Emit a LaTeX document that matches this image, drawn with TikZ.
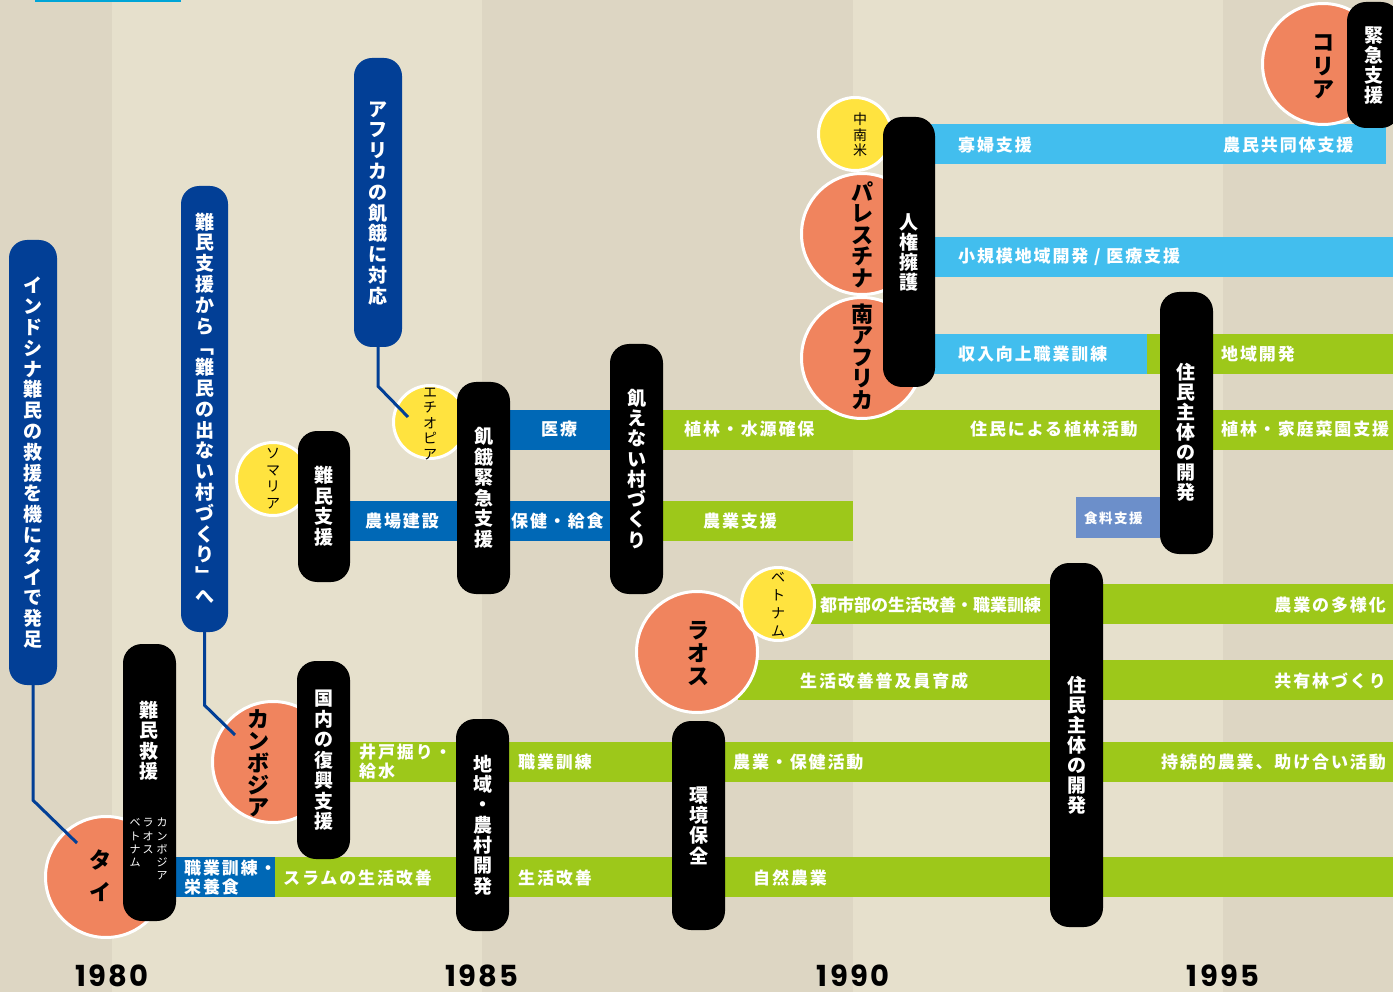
\documentclass[tikz,border=0pt]{standalone}
\usepackage{fontspec}
\setmainfont{Noto Sans CJK JP}
\newfontfamily\jp{Noto Sans CJK JP}
\newfontfamily\jpl{Noto Sans CJK JP}[LetterSpace=11]
\newfontfamily\yr{Poppins}[LetterSpace=8]
\definecolor{bgd}{HTML}{DDD6C3}
\definecolor{bgl}{HTML}{E6E0CC}
\definecolor{navy}{HTML}{023F96}
\definecolor{grn}{HTML}{9DC81A}
\definecolor{mblue}{HTML}{0068B6}
\definecolor{lblue}{HTML}{42BEEE}
\definecolor{lav}{HTML}{6C8FCA}
\definecolor{salmon}{HTML}{F0845E}
\definecolor{yell}{HTML}{FFE33F}
\definecolor{topc}{HTML}{00A5D7}
\makeatletter
\newcommand\vtext[2]{\vbox{\offinterlineskip\@tfor\vt@c:=#2\do{\hbox to 1em{\hss\rule[\dimexpr-0.12em-(#1-1em)/2\relax]{0pt}{#1}\vt@c\hss}}}}
\makeatother
\tikzset{
  bar/.style={rectangle, inner sep=0pt, minimum height=40pt, draw=none, anchor=west},
  pill/.style={rectangle, fill=black, rounded corners=19pt, inner sep=0pt, text=white,
    font={\jp\bfseries\fontsize{19pt}{20pt}\selectfont}},
  bpill/.style={rectangle, fill=navy, rounded corners=18pt, inner sep=0pt, text=white,
    font={\jp\bfseries\fontsize{19pt}{20pt}\selectfont}},
  ctry/.style={circle, fill=salmon, draw=white, line width=3pt, minimum size=121pt, inner sep=0pt},
  yel/.style={circle, fill=yell, draw=white, line width=3pt, minimum size=73pt, inner sep=0pt},
  big/.style={inner sep=0pt, text=black, font={\jp\bfseries\fontsize{22pt}{24pt}\selectfont}},
  small/.style={inner sep=0pt, text=black, font={\jp\fontsize{14pt}{16pt}\selectfont}},
  lab/.style={inner sep=0pt, text=white, font={\jpl\bfseries\fontsize{17pt}{19pt}\selectfont}},
  conn/.style={draw=navy, line width=3pt},
  year/.style={inner sep=0pt, anchor=base, font={\yr\bfseries\fontsize{29pt}{31pt}\selectfont}}
}
\begin{document}
\begin{tikzpicture}[x=1pt,y=-1pt]
\useasboundingbox (0,0) rectangle (1393,992);
% background bands
\fill[bgd] (0,0) rectangle (112,992);
\fill[bgl] (112,0) rectangle (482,992);
\fill[bgd] (482,0) rectangle (853,992);
\fill[bgl] (853,0) rectangle (1223,992);
\fill[bgd] (1223,0) rectangle (1393,992);
\fill[topc] (35,0) rectangle (181,2.5);
% bars
\node[bar, fill=mblue, minimum width=99pt] (a1) at (176,877) {};
\node[bar, fill=grn, minimum width=1118pt] (a2) at (275,877) {};
\node[bar, fill=grn, minimum width=1043pt] (b1) at (350,762) {};
\node[bar, fill=grn, minimum width=655pt] (c1) at (738,680) {};
\node[bar, fill=grn, minimum width=582pt] (d1) at (811,604) {};
\node[bar, fill=mblue, minimum width=260pt] (e1) at (350,521) {};
\node[bar, fill=grn, minimum width=243pt] (e2) at (610,521) {};
\node[bar, fill=mblue, minimum width=100pt] (f1) at (510,429.5) {};
\node[bar, fill=grn, minimum width=783pt] (f2) at (610,429.5) {};
\node[bar, fill=lblue, minimum width=247pt] (g1) at (900,354) {};
\node[bar, fill=grn, minimum width=246pt] (g2) at (1147,354) {};
\node[bar, fill=lblue, minimum width=493pt] (h1) at (900,257) {};
\node[bar, fill=lblue, minimum width=486pt] (i1) at (900,144) {};
\node[bar, fill=lav, minimum width=84pt, minimum height=41pt] (food) at (1076,517.5) {};
% circles
\node[ctry] (tai) at (106,877) {};
\node[ctry] (cam) at (273,762) {};
\node[ctry] (lao) at (697,652) {};
\node[yel] (vie) at (778,604) {};
\node[yel] (som) at (273,479) {};
\node[yel] (eth) at (430,422) {};
\node[yel] (lat) at (855,134) {};
\node[ctry] (pal) at (862,234) {};
\node[ctry] (saf) at (862,358) {};
\node[ctry] (kor) at (1323,64) {};
% circle texts
\node[big] (taiT) at (100,876) {\vtext{32pt}{タイ}};
\node[big] (camT) at (258,763) {\vtext{22pt}{カンボジア}};
\node[big] (laoT) at (698,653) {\vtext{23pt}{ラオス}};
\node[big] (palT) at (862,235) {\vtext{21.5pt}{パレスチナ}};
\node[big] (safT) at (862,357) {\vtext{21.5pt}{南アフリカ}};
\node[big] (korT) at (1323,66) {\vtext{23.5pt}{コリア}};
\node[small] (vieT) at (778,604) {\vtext{18pt}{ベトナム}};
\node[small] (somT) at (273,478) {\vtext{16.5pt}{ソマリア}};
\node[small] (ethT) at (430,423) {\vtext{15.5pt}{エチオピア}};
\node[small] (latT) at (860,135) {\vtext{15.5pt}{中南米}};
% connectors
\coordinate (taiIn) at (77,843);
\coordinate (camIn) at (235,735);
\coordinate (ethIn) at (408,417);
% blue pills
\node[bpill, minimum width=48pt, minimum height=445pt] (bp1) at (33,462.5) {\vtext{20.8pt}{インドシナ難民の救援を機にタイで発足}};
\node[bpill, minimum width=47pt, minimum height=446pt] (bp2) at (204.5,409) {\vtext{20.8pt}{難民支援から﹁難民の出ない村づくり﹂へ}};
\node[bpill, minimum width=48pt, minimum height=289pt] (bp3) at (378,202.5) {\vtext{20.8pt}{アフリカの飢餓に対応}};
\draw[conn] (bp1.south) -- ++(0,115) -- (taiIn);
\draw[conn] (bp2.south) -- ++(0,73) -- (camIn);
\draw[conn] (bp3.south) -- ++(0,39) -- (ethIn);
% black pills
\node[pill, minimum width=53pt, minimum height=277pt] (kyuen) at (149.5,782.5) {};
\node[inner sep=0pt, text=white, font={\jp\bfseries\fontsize{19pt}{20pt}\selectfont}] (kyuenT) at (149,741) {\vtext{20.5pt}{難民救援}};
\node[inner sep=0pt, text=white, anchor=north, font={\jp\fontsize{11pt}{12pt}\selectfont}] (k1) at (162,816) {\vtext{13.2pt}{カンボジア}};
\node[inner sep=0pt, text=white, anchor=north, font={\jp\fontsize{11pt}{12pt}\selectfont}] (k2) at (148,816) {\vtext{13.2pt}{ラオス}};
\node[inner sep=0pt, text=white, anchor=north, font={\jp\fontsize{11pt}{12pt}\selectfont}] (k3) at (135,816) {\vtext{13.2pt}{ベトナム}};
\node[pill, minimum width=53pt, minimum height=198pt] (kokunai) at (323.5,760) {\vtext{20.5pt}{国内の復興支援}};
\node[pill, minimum width=52pt, minimum height=151pt] (nshien) at (324,506.5) {\vtext{20.5pt}{難民支援}};
\node[pill, minimum width=53pt, minimum height=212pt] (kiga) at (483.5,488) {\vtext{20.5pt}{飢餓緊急支援}};
\node[pill, minimum width=53pt, minimum height=250pt] (uenai) at (636.5,469) {\vtext{20.3pt}{飢えない村づくり}};
\node[pill, minimum width=53pt, minimum height=212pt] (chiiki) at (482.5,825) {\vtext{20.3pt}{地域・農村開発}};
\node[pill, minimum width=53pt, minimum height=209pt] (kankyo) at (698.5,825.5) {\vtext{20.3pt}{環境保全}};
\node[pill, minimum width=53pt, minimum height=364pt] (jumin1) at (1076.5,745) {\vtext{20pt}{住民主体の開発}};
\node[pill, minimum width=52pt, minimum height=270pt] (jinken) at (909,252) {\vtext{20pt}{人権擁護}};
\node[pill, minimum width=53pt, minimum height=262pt] (jumin2) at (1186.5,423) {};
\node[inner sep=0pt, text=white, font={\jp\bfseries\fontsize{19pt}{20pt}\selectfont}] (jumin2T) at (1186,432) {\vtext{20pt}{住民主体の開発}};
\node[pill, minimum width=53pt, minimum height=126pt] (kinkyu) at (1373.5,65) {\vtext{20pt}{緊急支援}};
% bar labels
\node[lab, anchor=west, align=left] (l1) at (184,877.5) {職業訓練・\\栄養食};
\node[lab, anchor=west] (l2) at (283,878) {スラムの生活改善};
\node[lab, anchor=west] (l3) at (518,878) {生活改善};
\node[lab, anchor=west] (l4) at (753,878) {自然農業};
\node[lab, anchor=west, align=left] (l5) at (359,762) {井戸掘り・\\給水};
\node[lab, anchor=west] (l6) at (518,762) {職業訓練};
\node[lab, anchor=west] (l7) at (733,762) {農業・保健活動};
\node[lab, anchor=east] (l8) at (1386,762) {持続的農業、助け合い活動};
\node[lab, anchor=west] (l9) at (800,681) {生活改善普及員育成};
\node[lab, anchor=east] (l10) at (1386,681) {共有林づくり};
\node[lab, anchor=west, font={\jp\bfseries\fontsize{17pt}{19pt}\selectfont}] (l11) at (820,605) {都市部の生活改善・職業訓練};
\node[lab, anchor=east] (l12) at (1386,605) {農業の多様化};
\node[lab, anchor=west] (l13) at (365,521) {農場建設};
\node[lab, anchor=west] (l14) at (511,521) {保健・給食};
\node[lab, anchor=west] (l15) at (703,521) {農業支援};
\node[lab, anchor=west] (l16) at (541,429.5) {医療};
\node[lab, anchor=west] (l17) at (684,429.5) {植林・水源確保};
\node[lab, anchor=west] (l18) at (970,429.5) {住民による植林活動};
\node[lab, anchor=west] (l19) at (1221,429.5) {植林・家庭菜園支援};
\node[lab, anchor=west] (l20) at (958,354) {収入向上職業訓練};
\node[lab, anchor=west] (l21) at (1221,354) {地域開発};
\node[lab, anchor=west] (l22) at (958,257) {小規模地域開発 / 医療支援};
\node[lab, anchor=west] (l23) at (958,145) {寡婦支援};
\node[lab, anchor=west] (l24) at (1223,145) {農民共同体支援};
\node[lab, anchor=west, font={\jpl\bfseries\fontsize{13.5pt}{15pt}\selectfont}] (l25) at (1084,518) {食料支援};
% years
\node[year] (y80) at (112,986) {1980};
\node[year] (y85) at (482,986) {1985};
\node[year] (y90) at (853,986) {1990};
\node[year] (y95) at (1223,986) {1995};
\end{tikzpicture}
\end{document}
